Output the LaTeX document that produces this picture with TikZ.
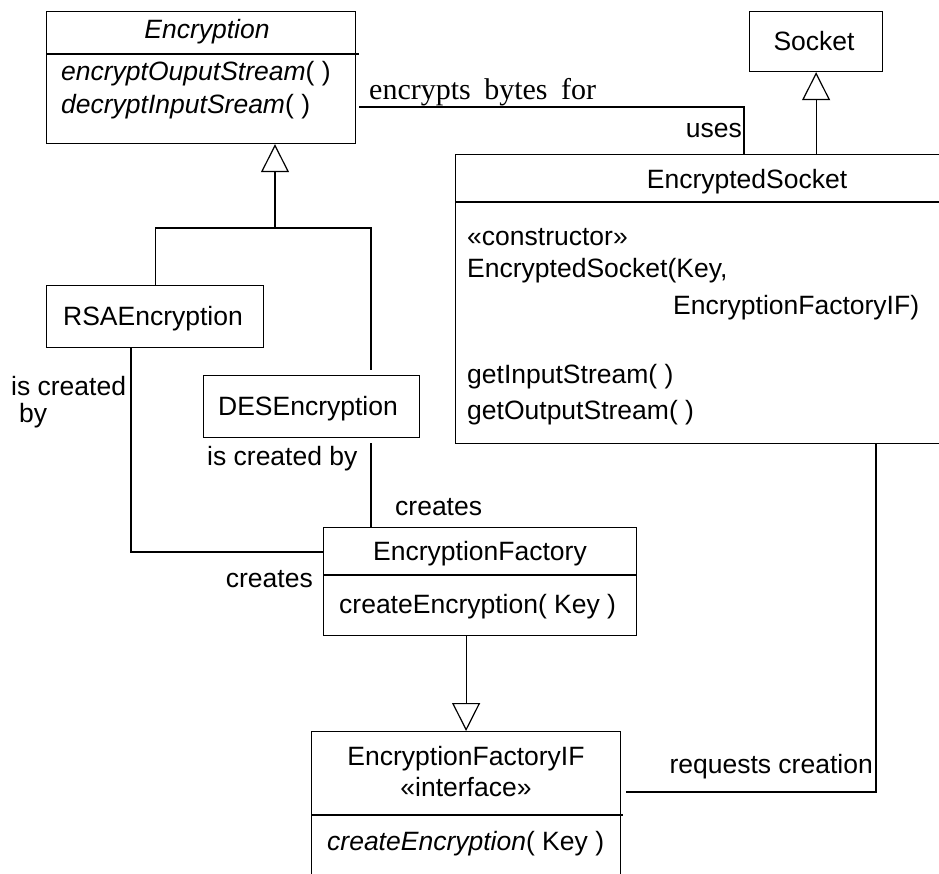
\documentclass[tikz,border=0pt]{standalone}
\usepackage{fontspec}
\setmainfont{Liberation Sans}
\newfontfamily\assocserif{Liberation Serif}
\usetikzlibrary{arrows.meta}

\tikzset{
  umlbox/.style={draw, line width=1.2pt, inner sep=0pt, anchor=north west},
  conn/.style={line width=1.2pt},
  gen/.style={conn, -{Triangle[open, length=28pt, width=28pt, line width=1.2pt]}},
  txt/.style={inner sep=0pt, yshift=-5pt, font=\fontsize{26.5}{31}\selectfont},
  serifnote/.style={inner sep=0pt, yshift=-7pt, font=\assocserif\fontsize{30}{36}\selectfont},
}

\begin{document}
\begin{tikzpicture}[x=1pt, y=-1pt]
\useasboundingbox (0,0) rectangle (939,874);
\clip (0,0) rectangle (939,874);

% class boxes
\node[umlbox, minimum width=309pt, minimum height=132pt] (enc)   at (46,11)  {};
\node[umlbox, minimum width=133pt, minimum height=60pt]  (sock)  at (749,11) {};
\node[umlbox, minimum width=585pt, minimum height=289pt] (esock) at (455,154) {};
\node[umlbox, minimum width=217pt, minimum height=62pt]  (rsa)   at (46,285) {};
\node[umlbox, minimum width=216pt, minimum height=62pt]  (des)   at (203,375) {};
\node[umlbox, minimum width=313pt, minimum height=108pt] (fac)   at (323,527) {};
\node[umlbox, minimum width=309pt, minimum height=170pt] (fif)   at (311,731) {};

% compartment dividers
\draw[conn] (enc.west |- 0,54) -- ([xshift=3pt]enc.east |- 0,54);
\draw[conn] (esock.west |- 0,202) -- (esock.east |- 0,202);
\draw[conn] (fac.west |- 0,575) -- (fac.east |- 0,575);
\draw[conn] (fif.west |- 0,815) -- ([xshift=2pt]fif.east |- 0,815);

% Encryption
\node[txt, anchor=mid] (encname) at (207,31) {\itshape Encryption};
\node[txt, anchor=mid west] (encm1) at (61,73) {\textit{encryptOuputStream}( )};
\node[txt, anchor=mid west] (encm2) at (61,106) {\textit{decryptInputSream}( )};

% Socket
\node[txt, anchor=mid] (sockname) at (814,43) {Socket};

% EncryptedSocket
\node[txt, anchor=mid] (esockname) at (747,181) {EncryptedSocket};
\node[txt, anchor=mid west] (esock1) at (467,238) {«constructor»};
\node[txt, anchor=mid west] (esock2) at (467,270) {EncryptedSocket(Key,};
\node[txt, anchor=mid west] (esock3) at (673,307) {EncryptionFactoryIF)};
\node[txt, anchor=mid west] (esock4) at (467,376) {getInputStream( )};
\node[txt, anchor=mid west] (esock5) at (467,412) {getOutputStream( )};

% concrete encryptions
\node[txt, anchor=mid] (rsaname) at (153,318) {RSAEncryption};
\node[txt, anchor=mid] (desname) at (308,408) {DESEncryption};

% EncryptionFactory
\node[txt, anchor=mid] (facname) at (480,553) {EncryptionFactory};
\node[txt, anchor=mid west] (facm) at (339,606) {createEncryption( Key )};

% EncryptionFactoryIF
\node[txt, anchor=mid] (fifname) at (466,758) {EncryptionFactoryIF};
\node[txt, anchor=mid] (fifst) at (466,789) {«interface»};
\node[txt, anchor=mid west] (fifm) at (327,843) {\textit{createEncryption}( Key )};

% bend points of the connectors
\coordinate (encbend) at (744,107);
\coordinate (gj) at (275,228);
\coordinate (dtop) at (371,370);
\coordinate (dbot) at (371,443);
\coordinate (rbend) at (131,552);
\coordinate (rq) at (876,792);

% Encryption -- EncryptedSocket
\draw[conn] ([xshift=3pt]enc.east |- encbend) -- (encbend) -- (encbend |- esock.north);
\node[serifnote, anchor=mid west] (lblbytes) at (369,90) {encrypts\hspace{0.45em}bytes\hspace{0.45em}for};
\node[txt, anchor=mid east] (lbluses) at (742,130) {uses};

% Socket <|-- EncryptedSocket
\draw[gen] (esock.north -| sock.south) -- (sock.south);

% Encryption <|-- RSAEncryption, DESEncryption
\draw[gen] (gj) -- (gj |- enc.south);
\draw[conn] (rsa.north) |- (gj) -- (gj -| dtop) -- (dtop);

% RSAEncryption -- EncryptionFactory
\draw[conn] (rsa.south -| rbend) -- (rbend) -- (rbend -| fac.west);
\node[txt, anchor=mid west] (lblrsa1) at (11,388) {is created};
\node[txt, anchor=mid west] (lblrsa2) at (19,415) {by};
\node[txt, anchor=mid east] (lblrsa3) at (313,580) {creates};

% DESEncryption -- EncryptionFactory
\draw[conn] (dbot) -- (dbot |- fac.north);
\node[txt, anchor=mid west] (lbldes1) at (207,458) {is created by};
\node[txt, anchor=mid west] (lbldes2) at (395,508) {creates};

% EncryptionFactoryIF <|-- EncryptionFactory
\draw[gen] (fac.south -| fif.north) -- (fif.north);

% EncryptionFactoryIF -- EncryptedSocket
\draw[conn] ([xshift=5pt]fif.east |- rq) -- (rq) -- (rq |- esock.south);
\node[txt, anchor=mid east] (lblreq) at (873,766) {requests creation};

\end{tikzpicture}
\end{document}
